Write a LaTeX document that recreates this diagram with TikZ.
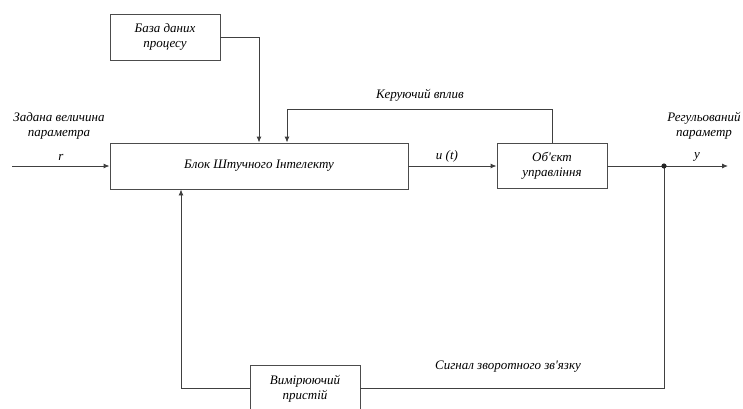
\documentclass[tikz,border=0pt]{standalone}
\usepackage{fontspec}
\setmainfont{Liberation Serif}
\newfontfamily\lblfont{Liberation Serif}
\usetikzlibrary{arrows.meta}
\begin{document}
\begin{tikzpicture}[x=1pt,y=-1pt,
  blk/.style={draw=black!70, line width=0.9pt, fill=white, align=center, inner sep=0pt, font=\lblfont\itshape\fontsize{13}{15}\selectfont},
  lbl/.style={align=center, inner sep=0pt, font=\lblfont\itshape\fontsize{13}{15}\selectfont},
  wire/.style={draw=black!75, line width=0.9pt},
  arr/.style={wire, -{Latex[length=6pt,width=5pt]}}]
\useasboundingbox (0,0) rectangle (743,408);
\node[blk, minimum width=110pt, minimum height=46pt] (db) at (165,37) {База даних\\процесу};
\node[blk, minimum width=298pt, minimum height=46pt] (ai) at (259,166) {Блок Штучного Інтелекту};
\node[blk, minimum width=110pt, minimum height=45pt] (obj) at (552,166) {Об'єкт\\управління};
\node[blk, minimum width=110pt, minimum height=46pt] (meas) at (305,388) {};
\node[lbl] (measT) at (305,389) {Вимірюючий\\пристій};
\coordinate (out) at (728,166);
\coordinate (in) at (12,166);
\coordinate (dot) at (664,166);
\coordinate (c1) at (259,37);
\coordinate (c2) at (552,109);
\coordinate (c3) at (287,109);
\coordinate (c4) at (664,388);
\coordinate (c5) at (181,388);
\draw[arr] (in) -- (ai.west |- in);
\draw[arr] (db.east) -- (c1) -- (ai.north -| c1);
\draw[arr] (obj.north) -- (c2) -- (c3) -- (ai.north -| c3);
\draw[arr] (ai.east |- obj.west) -- (obj.west);
\draw[arr] (obj.east) -- (out);
\draw[wire] (dot) -- (c4) -- (meas.east |- c4);
\draw[arr] (meas.west |- c5) -- (c5) -- (ai.south -| c5);
\fill[black!85] (dot) circle (2.6pt);
\node[lbl] (l1) at (59,126) {Задана величина\\параметра};
\node[lbl] (l2) at (61,157) {r};
\node[lbl] (l3) at (420,95) {Керуючий вплив};
\node[lbl] (l4) at (447,156) {u (t)};
\node[lbl] (l5) at (704,126) {Регульований\\параметр};
\node[lbl] (l6) at (697,157) {y};
\node[lbl] (l7) at (508,367) {Сигнал зворотного зв'язку};
\end{tikzpicture}
\end{document}
